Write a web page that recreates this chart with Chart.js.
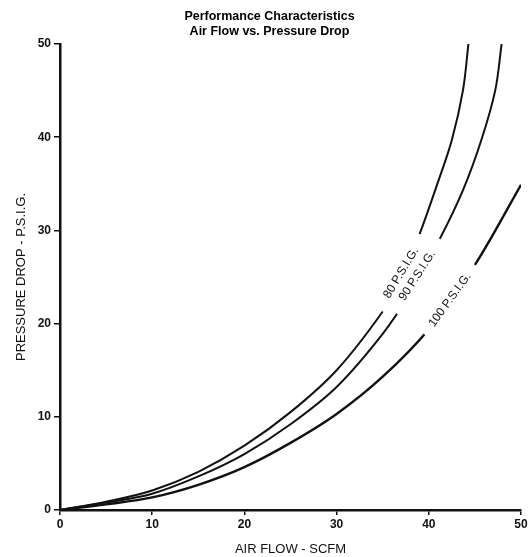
<!DOCTYPE html>
<html>
<head>
<meta charset="utf-8">
<script src="https://cdn.jsdelivr.net/npm/chart.js@4.4.1/dist/chart.umd.min.js"></script>
<style>
  html, body { margin: 0; padding: 0; background: #fff; }
  #wrap { width: 530px; height: 557px; }
</style>
</head>
<body>
<div id="wrap"><canvas id="flow-chart"></canvas></div>
<script>
// air flow (SCFM) vs pressure drop (PSIG), one curve per inlet pressure
const flow80 = [0, 5, 10, 15, 20, 25, 30, 35, 37, 39, 41, 42.5, 43.7, 44.3];
const drop80 = [0, 0.9, 2.1, 4.1, 6.9, 10.5, 15.0, 21.3, 24.8, 29.6, 35.2, 39.7, 45.0, 50];

const flow90 = [0, 5, 10, 15, 20, 25, 30, 35, 38, 41.2, 43.7, 45.7, 47.2, 47.9];
const drop90 = [0, 0.8, 1.75, 3.6, 6.0, 9.2, 13.2, 18.9, 23.3, 29.1, 34.3, 39.7, 45.0, 50];

const flow100 = [0, 5, 10, 15, 20, 25, 30, 35, 40, 45, 50];
const drop100 = [0, 0.6, 1.35, 2.7, 4.6, 7.2, 10.3, 14.3, 19.4, 26.3, 34.9];

const xTicks = [0, 10, 20, 30, 40, 50];
const yTicks = [0, 10, 20, 30, 40, 50];

// in-line curve labels: the curve is broken between two points on it
const curveLabels = [
  { text: '80 P.S.I.G.', from: [35.0, 21.3], to: [39.0, 29.6], angle: -59 },
  { text: '90 P.S.I.G.', from: [36.3, 21.2], to: [41.2, 29.1], angle: -57 },
  { text: '100 P.S.I.G.', from: [39.6, 18.8], to: [45.0, 26.3], angle: -54 }
];

const pts = (xs, ys) => xs.map((x, i) => ({ x: x, y: ys[i] }));

const inlineLabels = {
  id: 'inlineLabels',
  afterDatasetsDraw(chart) {
    const { ctx, scales: { x, y } } = chart;
    ctx.save();
    curveLabels.forEach(l => {
      const x0 = x.getPixelForValue(l.from[0]), y0 = y.getPixelForValue(l.from[1]);
      const x1 = x.getPixelForValue(l.to[0]), y1 = y.getPixelForValue(l.to[1]);
      ctx.strokeStyle = '#fff';
      ctx.lineWidth = 9;
      ctx.lineCap = 'butt';
      ctx.beginPath();
      ctx.moveTo(x0, y0);
      ctx.lineTo(x1, y1);
      ctx.stroke();

      ctx.save();
      ctx.translate((x0 + x1) / 2, (y0 + y1) / 2);
      ctx.rotate(l.angle * Math.PI / 180);
      ctx.fillStyle = '#111';
      ctx.font = '12px "Liberation Sans", Arial, sans-serif';
      ctx.textAlign = 'center';
      ctx.textBaseline = 'middle';
      ctx.fillText(l.text, 0, 0);
      ctx.restore();
    });
    ctx.restore();
  }
};

const lineStyle = {
  showLine: true,
  borderColor: '#111',
  borderWidth: 2,
  pointRadius: 0,
  tension: 0.35,
  fill: false
};

new Chart(document.getElementById('flow-chart'), {
  type: 'scatter',
  data: {
    datasets: [
      Object.assign({ label: '80 P.S.I.G.', data: pts(flow80, drop80) }, lineStyle),
      Object.assign({ label: '90 P.S.I.G.', data: pts(flow90, drop90) }, lineStyle),
      Object.assign({ label: '100 P.S.I.G.', data: pts(flow100, drop100) }, lineStyle, { borderWidth: 2.4 })
    ]
  },
  options: {
    responsive: true,
    maintainAspectRatio: false,
    animation: false,
    layout: { padding: { left: 9, right: 0, top: 0, bottom: 0 } },
    plugins: {
      legend: { display: false },
      tooltip: { enabled: false },
      title: {
        display: true,
        text: ['Performance Characteristics', 'Air Flow vs. Pressure Drop'],
        color: '#000',
        font: { family: '"Liberation Sans Narrow", "Liberation Sans", Arial, sans-serif', size: 12.5, weight: 'bold', lineHeight: 1.2 },
        padding: { top: 9, bottom: 5 }
      }
    },
    scales: {
      x: {
        type: 'linear',
        min: 0,
        max: 50,
        afterBuildTicks: s => { s.ticks = xTicks.map(v => ({ value: v })); },
        afterFit: s => { s.height = 47; s.paddingRight = 9; },
        grid: { drawOnChartArea: false, drawTicks: true, tickLength: 5, color: '#111', lineWidth: 1.5 },
        border: { display: true, color: '#111', width: 2.5 },
        ticks: { color: '#111', padding: 2, maxRotation: 0, font: { family: '"Liberation Sans", Arial, sans-serif', size: 12, weight: 'bold' } },
        title: {
          display: true,
          text: 'AIR FLOW - SCFM',
          color: '#111',
          padding: { top: 0, bottom: 0 },
          font: { family: '"Liberation Sans", Arial, sans-serif', size: 13 }
        }
      },
      y: {
        type: 'linear',
        min: 0,
        max: 50,
        afterBuildTicks: s => { s.ticks = yTicks.map(v => ({ value: v })); },
        afterFit: s => { s.width = 51; },
        grid: { drawOnChartArea: false, drawTicks: true, tickLength: 6, color: '#111', lineWidth: 1.5 },
        border: { display: true, color: '#111', width: 2.5 },
        ticks: { color: '#111', padding: 3, font: { family: '"Liberation Sans", Arial, sans-serif', size: 12, weight: 'bold' } },
        title: {
          display: true,
          text: 'PRESSURE DROP - P.S.I.G.',
          color: '#111',
          padding: { top: 5, bottom: 0 },
          font: { family: '"Liberation Sans", Arial, sans-serif', size: 13 }
        }
      }
    }
  },
  plugins: [inlineLabels]
});
</script>
</body>
</html>
